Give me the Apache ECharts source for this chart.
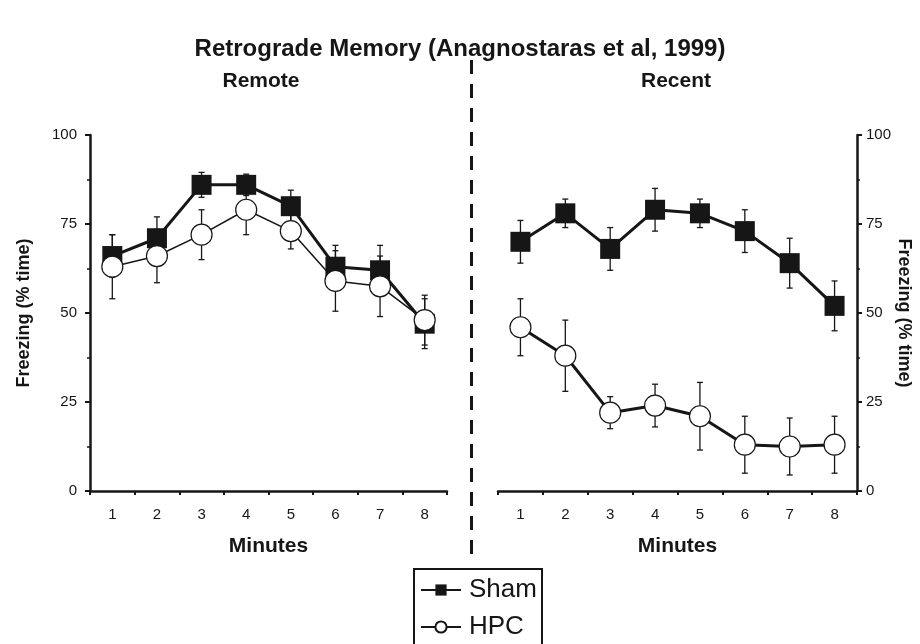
<!DOCTYPE html>
<html>
<head>
<meta charset="utf-8">
<script src="https://cdn.jsdelivr.net/npm/echarts@6/dist/echarts.min.js"></script>
<style>
  html, body { margin: 0; padding: 0; background: #fff; }
  #chart { width: 920px; height: 644px; }
</style>
</head>
<body>
<div id="chart"></div>
<script>
const minutes = ["1", "2", "3", "4", "5", "6", "7", "8"];
const yTicks = [0, 25, 50, 75, 100];

const remoteSham = [66, 71, 86, 86, 80, 63, 62, 47];
const remoteShamErr = [6, 6, 3.5, 3, 4.5, 6, 7, 7];
const remoteHpc = [63, 66, 72, 79, 73, 59, 57.5, 48];
const remoteHpcErr = [9, 7.5, 7, 7, 5, 8.5, 8.5, 7];

const recentSham = [70, 78, 68, 79, 78, 73, 64, 52];
const recentShamErr = [6, 4, 6, 6, 4, 6, 7, 7];
const recentHpc = [46, 38, 22, 24, 21, 13, 12.5, 13];
const recentHpcErr = [8, 10, 4.5, 6, 9.5, 8, 8, 8];

const ink = "#161616";
const font = "Liberation Sans, Arial, sans-serif";

const errData = (vals, errs) =>
	vals.map((v, i) => [i, v - errs[i], v + errs[i]]);

const renderErr = (params, api) => {
	const lo = api.coord([api.value(0), api.value(1)]);
	const hi = api.coord([api.value(0), api.value(2)]);
	const cap = 3;
	const style = { stroke: ink, lineWidth: 1.3 };
	return {
		type: "group",
		children: [
			{ type: "line", shape: { x1: lo[0], y1: lo[1], x2: hi[0], y2: hi[1] }, style },
			{ type: "line", shape: { x1: lo[0] - cap, y1: lo[1], x2: lo[0] + cap, y2: lo[1] }, style },
			{ type: "line", shape: { x1: hi[0] - cap, y1: hi[1], x2: hi[0] + cap, y2: hi[1] }, style },
		],
	};
};

const xAxis = (gridIndex) => ({
	type: "category",
	gridIndex,
	data: minutes,
	boundaryGap: true,
	name: "Minutes",
	nameLocation: "middle",
	nameGap: 45,
	nameTextStyle: { fontFamily: font, fontSize: 21, fontWeight: "bold", color: ink },
	axisLine: { lineStyle: { color: ink, width: 2.5 } },
	axisTick: { show: true, interval: 0, length: 4, lineStyle: { color: ink, width: 2 } },
	axisLabel: { interval: 0, margin: 16, fontFamily: font, fontSize: 15, color: ink },
	splitLine: { show: false },
});

const yAxis = (gridIndex, position) => ({
	type: "value",
	gridIndex,
	position,
	min: yTicks[0],
	max: yTicks[yTicks.length - 1],
	interval: 25,
	name: "Freezing (% time)",
	nameLocation: "middle",
	nameGap: position === "left" ? 57 : 38,
	nameRotate: position === "left" ? 90 : -90,
	nameTextStyle: { fontFamily: font, fontSize: 18, fontWeight: "bold", color: ink },
	axisLine: { show: true, lineStyle: { color: ink, width: 2.5 } },
	axisTick: { show: true, length: 5, lineStyle: { color: ink, width: 2 } },
	minorTick: { show: true, splitNumber: 2, length: 3, lineStyle: { color: ink, width: 1.5 } },
	axisLabel: { margin: position === "left" ? 13 : 9, fontFamily: font, fontSize: 15, color: ink },
	splitLine: { show: false },
});

const lineSeries = (name, data, idx, symbol, width) => ({
	name,
	type: "line",
	xAxisIndex: idx,
	yAxisIndex: idx,
	data,
	symbol,
	symbolSize: symbol === "rect" ? 20 : 21,
	lineStyle: { color: ink, width },
	itemStyle:
		symbol === "rect"
			? { color: ink, borderColor: ink, borderWidth: 0 }
			: { color: "#fff", borderColor: ink, borderWidth: 1.2 },
	z: symbol === "rect" ? 3 : 4,
	animation: false,
});

const errSeries = (vals, errs, idx) => ({
	type: "custom",
	xAxisIndex: idx,
	yAxisIndex: idx,
	data: errData(vals, errs),
	renderItem: renderErr,
	z: 2,
	silent: true,
	animation: false,
});

const legendRow = (name, top) => ({
	data: [name],
	left: 420,
	top,
	padding: 0,
	itemWidth: 40,
	itemHeight: 14,
	itemGap: 0,
	textStyle: { fontFamily: font, fontSize: 26, color: ink, padding: [0, 0, 0, 3] },
});

const myChart = echarts.init(document.getElementById("chart"));

const option = {
	backgroundColor: "#fff",
	animation: false,
	title: [
		{
			text: "Retrograde Memory (Anagnostaras et al, 1999)",
			left: "center",
			top: 32,
			textStyle: { fontFamily: font, fontSize: 24, fontWeight: "bold", color: ink },
		},
		{
			text: "Remote",
			left: 256,
			textAlign: "center",
			top: 66,
			textStyle: { fontFamily: font, fontSize: 21, fontWeight: "bold", color: ink },
		},
		{
			text: "Recent",
			left: 671,
			textAlign: "center",
			top: 66,
			textStyle: { fontFamily: font, fontSize: 21, fontWeight: "bold", color: ink },
		},
	],
	legend: [legendRow("Sham", 577), legendRow("HPC", 614)],
	grid: [
		{ left: 90, top: 135, width: 357, height: 356 },
		{ left: 498, top: 135, width: 359, height: 356 },
	],
	xAxis: [xAxis(0), xAxis(1)],
	yAxis: [yAxis(0, "left"), yAxis(1, "right")],
	graphic: [
		{
			type: "line",
			shape: { x1: 471.5, y1: 60, x2: 471.5, y2: 556 },
			style: { stroke: ink, lineWidth: 3, lineDash: [14, 10] },
		},
		{
			type: "rect",
			shape: { x: 414, y: 569, width: 128, height: 90 },
			style: { fill: null, stroke: ink, lineWidth: 2 },
		},
	],
	series: [
		errSeries(remoteSham, remoteShamErr, 0),
		errSeries(remoteHpc, remoteHpcErr, 0),
		lineSeries("Sham", remoteSham, 0, "rect", 3),
		lineSeries("HPC", remoteHpc, 0, "circle", 1.5),
		errSeries(recentSham, recentShamErr, 1),
		errSeries(recentHpc, recentHpcErr, 1),
		lineSeries("Sham", recentSham, 1, "rect", 3),
		lineSeries("HPC", recentHpc, 1, "circle", 3),
	],
};
myChart.setOption(option);

window.onresize = () => {
	myChart.resize();
};
</script>
</body>
</html>
